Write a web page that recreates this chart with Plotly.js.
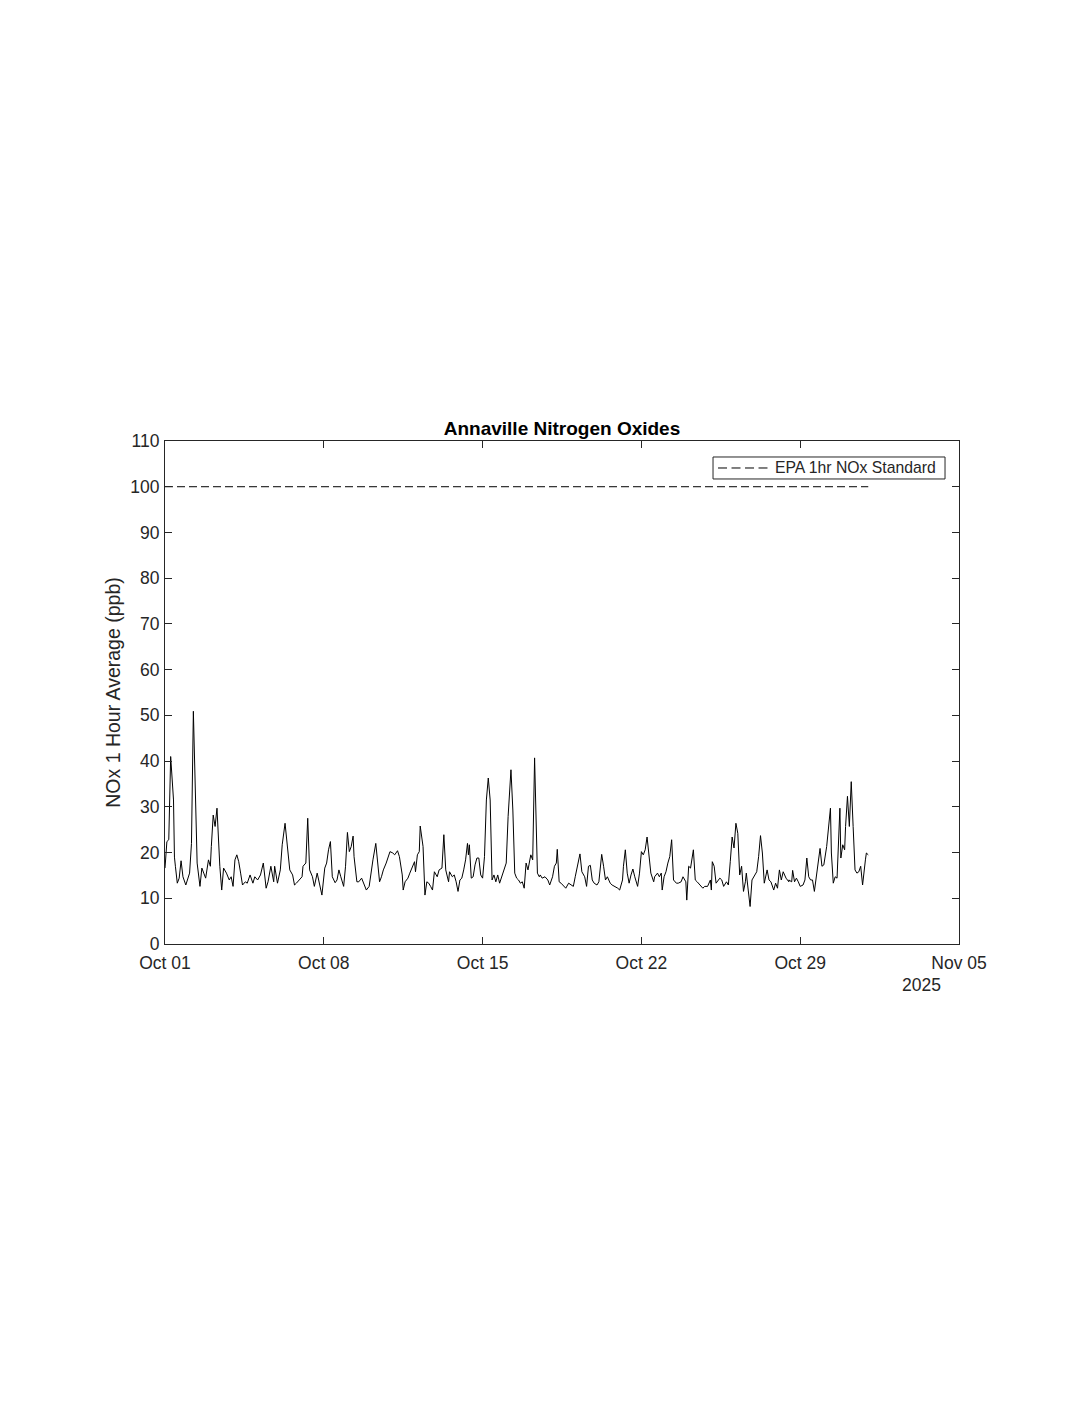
<!DOCTYPE html>
<html>
<head>
<meta charset="utf-8">
<script src="https://cdn.plot.ly/plotly-3.0.1.min.js"></script>
<style>html,body{margin:0;padding:0;background:#fff;}</style>
</head>
<body>
<div id="chart" style="width:1088px;height:1408px;"></div>
<script>
// Time in days since 2025-10-01 00:00
const dayOffsets = [
0.00,0.07,0.18,0.26,0.37,0.40,0.47,0.56,0.63,0.72,
0.81,0.93,1.07,1.18,1.26,1.34,1.43,1.54,1.62,1.69,
1.79,1.91,1.99,2.06,2.13,2.21,2.31,2.40,2.50,2.60,
2.72,2.82,2.91,2.99,3.07,3.16,3.25,3.34,3.43,3.53,
3.63,3.75,3.87,3.97,4.07,4.19,4.34,4.46,4.56,4.68,
4.78,4.85,4.96,5.07,5.18,5.29,5.40,5.49,
5.51,5.61,5.70,5.80,5.91,6.03,6.10,6.20,6.30,6.39,
6.50,6.58,6.69,6.79,6.91,7.03,7.11,7.20,7.29,7.38,
7.50,7.58,7.67,7.76,7.86,7.94,8.04,8.13,8.19,8.28,
8.35,8.45,8.55,8.67,8.79,8.89,8.99,9.08,9.17,9.29,
9.38,9.47,9.55,9.64,9.73,9.82,9.92,10.03,10.14,10.26,
10.35,10.44,10.51,10.58,10.69,10.80,10.91,11.00,
11.04,11.12,11.20,11.27,11.36,11.45,11.54,11.62,11.71,11.80,
11.89,11.98,12.09,12.20,12.30,12.39,12.48,12.56,12.65,12.74,
12.83,12.93,13.01,13.09,13.18,13.27,13.33,13.39,13.43,13.52,
13.59,13.68,13.77,13.84,13.92,14.01,14.09,14.18,14.27,14.34,
14.42,14.51,14.59,14.68,14.77,14.86,14.95,15.04,15.14,15.24,
15.33,15.42,15.51,15.59,15.68,15.77,15.84,15.93,16.02,16.12,
16.20,16.31,16.40,16.51,
16.55,16.63,16.75,16.87,16.97,17.07,17.16,17.24,17.30,17.37,
17.46,17.56,17.66,17.78,17.90,18.00,18.07,18.16,18.24,18.30,
18.37,18.49,18.59,18.66,18.75,18.84,18.93,19.03,19.13,19.19,
19.27,19.34,19.43,19.52,19.62,19.72,19.84,19.96,20.06,20.16,
20.22,20.28,20.37,20.46,20.55,20.63,20.72,20.84,20.93,21.02,
21.09,21.16,21.25,21.34,21.43,21.53,21.60,21.69,21.78,21.87,
21.93,22.02,
22.08,22.17,22.26,22.35,22.42,22.53,22.63,22.73,22.85,22.94,
23.00,23.07,23.17,23.29,23.38,23.47,23.58,23.70,23.81,23.91,
24.03,24.08,24.14,24.22,24.29,24.39,24.47,24.56,24.64,24.73,
24.82,24.91,25.00,25.08,25.17,25.26,25.35,25.42,25.50,25.57,
25.64,25.72,25.79,25.88,25.97,26.08,26.17,26.26,26.35,26.42,
26.53,26.61,26.72,26.82,26.91,26.99,27.08,27.17,27.26,27.38,
27.48,
27.52,27.61,27.68,27.76,27.85,27.93,28.02,28.11,28.20,28.29,
28.37,28.46,28.55,28.64,28.73,28.80,28.87,28.95,29.05,29.17,
29.32,29.39,29.46,29.55,29.64,29.73,29.80,29.87,29.95,30.02,
30.10,30.17,30.27,30.35,30.42,30.49,30.58,30.67,30.76,30.86,
30.93,30.98
];
// NOx 1-hour average in ppb, matching dayOffsets
const noxValues = [
16.6,22.4,22.8,41.0,31.5,19.0,17.0,13.3,14.4,18.2,
14.7,12.9,15.5,22.0,50.9,31.5,17.7,12.6,16.6,15.5,
14.4,18.4,17.0,21.3,28.2,25.7,29.7,17.0,11.8,16.6,
15.5,14.0,14.7,12.6,18.4,19.5,18.0,15.5,12.9,13.6,
13.3,15.1,13.3,14.7,14.0,15.1,17.7,12.2,13.6,17.0,
13.6,17.0,13.3,16.2,21.7,26.4,20.6,16.6,
16.2,15.1,12.9,13.3,14.0,14.7,17.0,17.7,27.5,16.2,
14.7,12.6,15.5,13.6,10.7,16.6,17.7,20.6,22.4,14.7,
13.4,14.0,16.2,14.7,12.6,17.0,24.4,20.2,21.3,23.6,
19.1,13.6,13.6,14.4,12.9,11.8,12.6,15.8,18.4,22.0,
18.4,13.6,14.7,16.2,17.7,19.1,20.2,19.9,19.5,20.4,
19.1,15.1,11.8,13.6,14.4,15.5,17.3,18.0,
15.8,19.5,20.2,25.8,21.3,10.7,13.6,13.3,12.6,11.8,
15.8,14.7,16.2,16.6,23.9,16.2,13.6,15.8,14.7,15.1,
13.6,11.5,14.0,14.4,16.2,18.4,22.0,19.5,21.7,14.4,
14.7,17.3,18.8,18.8,15.1,14.4,19.1,31.5,36.3,31.5,
14.0,15.1,13.6,15.1,13.3,15.1,16.2,17.7,27.9,38.1,
29.3,15.5,14.4,14.0,13.3,13.6,12.2,17.7,16.2,19.5,
18.4,40.7,15.5,14.7,
15.1,14.4,14.7,14.0,12.9,14.7,17.0,17.7,20.7,13.6,
13.3,12.9,12.2,13.3,12.9,12.6,14.7,16.6,18.0,19.7,
15.8,14.7,12.6,17.0,17.2,14.0,13.3,12.9,13.6,17.7,
19.6,17.0,14.0,14.7,13.3,12.9,12.6,12.2,11.8,14.0,
17.0,20.6,15.5,13.3,15.1,16.4,14.7,12.6,15.5,20.2,
19.5,20.6,23.4,19.9,15.5,13.6,14.7,15.5,14.7,15.5,
11.8,14.7,
15.8,17.7,19.1,22.8,14.0,13.3,13.3,13.6,14.7,13.6,
9.6,17.0,16.6,20.6,14.0,13.6,12.9,12.2,12.6,12.6,
14.0,11.8,18.0,17.0,13.3,14.0,14.4,14.0,12.6,13.6,
12.9,18.0,23.4,21.0,26.4,24.2,15.1,17.0,11.5,13.6,
15.5,11.8,8.2,14.0,14.7,15.8,19.1,23.7,19.9,13.3,
16.2,14.0,13.6,11.8,13.3,12.2,16.2,14.0,15.8,14.4,
13.6,
14.0,13.6,16.1,13.6,14.4,13.6,12.6,12.9,14.0,18.8,
14.7,14.0,14.0,11.5,16.2,16.6,20.9,17.0,17.3,21.3,
29.7,19.9,13.3,14.7,14.4,29.7,18.8,21.7,20.6,25.7,
32.3,25.7,35.5,25.7,16.2,15.5,15.8,17.0,12.9,18.4,
19.9,19.5
];
const standardValue = 100;
const standardName = 'EPA 1hr NOx Standard';
const standardRange = ['2025-10-01', '2025-11-01'];
const tickDates = ['2025-10-01','2025-10-08','2025-10-15','2025-10-22','2025-10-29','2025-11-05'];
const tickLabels = ['Oct 01','Oct 08','Oct 15','Oct 22','Oct 29','Nov 05'];
const yTicks = [0,10,20,30,40,50,60,70,80,90,100,110];
const yearLabel = '2025';

const t0 = Date.UTC(2025, 9, 1);
function toIso(d) {
  const ms = t0 + Math.round(d * 24) * 3600000;
  return new Date(ms).toISOString().replace('T', ' ').slice(0, 19);
}
const n = Math.min(dayOffsets.length, noxValues.length);
const xTimes = dayOffsets.slice(0, n).map(toIso);
const yVals = noxValues.slice(0, n);

const FONT = 'Liberation Sans, Arial, Helvetica, sans-serif';
const INK = '#262626';
const DASH = '8px,4px';

const traces = [
  {
    x: xTimes, y: yVals, type: 'scatter', mode: 'lines',
    line: {color: '#000000', width: 1}, showlegend: false
  },
  {
    x: standardRange, y: [standardValue, standardValue], type: 'scatter', mode: 'lines',
    name: standardName, showlegend: false,
    line: {color: '#000000', width: 1, dash: DASH}
  }
];

// legend box drawn in paper coordinates (MATLAB-style compact legend)
const legX0 = 0.6902, legX1 = 0.9824, legY0 = 0.9245, legY1 = 0.9682;
const legYMid = (legY0 + legY1) / 2;

const layout = {
  width: 1088, height: 1408,
  paper_bgcolor: '#ffffff', plot_bgcolor: '#ffffff',
  margin: {l: 165, r: 129, t: 441, b: 464, pad: 0},
  font: {family: FONT, color: INK, size: 17.5},
  showlegend: false,
  title: {
    text: '<b>Annaville Nitrogen Oxides</b>',
    font: {family: FONT, size: 19, color: '#000000'},
    x: 0.5, xref: 'paper', xanchor: 'center',
    y: 1, yref: 'paper', yanchor: 'bottom', pad: {b: 6}
  },
  xaxis: {
    type: 'date',
    range: ['2025-10-01', '2025-11-05'],
    tickvals: tickDates, ticktext: tickLabels,
    ticks: 'inside', ticklen: 7, tickwidth: 1, tickcolor: INK,
    showline: true, linecolor: INK, linewidth: 1, mirror: 'ticks',
    showgrid: false, zeroline: false,
    ticklabelstandoff: 3,
    tickfont: {family: FONT, size: 17.5, color: INK}
  },
  yaxis: {
    range: [0, 110], tickvals: yTicks,
    ticks: 'inside', ticklen: 7, tickwidth: 1, tickcolor: INK,
    showline: true, linecolor: INK, linewidth: 1, mirror: 'ticks',
    showgrid: false, zeroline: false,
    ticklabelstandoff: 1,
    tickfont: {family: FONT, size: 17.5, color: INK},
    title: {text: 'NOx 1 Hour Average (ppb)', font: {family: FONT, size: 19.5, color: INK}, standoff: 4}
  },
  shapes: [
    {type: 'rect', xref: 'paper', yref: 'paper', x0: legX0, x1: legX1, y0: legY0, y1: legY1,
     line: {color: INK, width: 1}, fillcolor: '#ffffff', layer: 'above'},
    {type: 'line', xref: 'paper', yref: 'paper', x0: 0.6965, x1: 0.7588, y0: legYMid, y1: legYMid,
     line: {color: '#000000', width: 1, dash: '9px,4.5px'}, layer: 'above'}
  ],
  annotations: [
    {
      text: standardName, xref: 'paper', yref: 'paper', x: 0.7658, y: legYMid,
      xanchor: 'left', yanchor: 'middle', showarrow: false,
      font: {family: FONT, size: 15.75, color: INK}
    },
    {
      text: yearLabel, xref: 'paper', yref: 'paper', x: 0.953, y: 0,
      xanchor: 'center', yanchor: 'middle', yshift: -41, showarrow: false,
      font: {family: FONT, size: 17.5, color: INK}
    }
  ]
};

Plotly.newPlot('chart', traces, layout, {displayModeBar: false, staticPlot: true});
</script>
</body>
</html>
